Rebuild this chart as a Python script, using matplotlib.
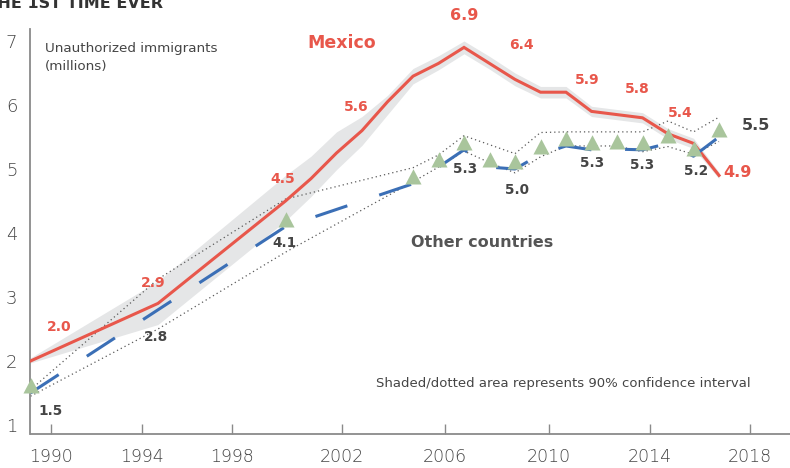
import numpy as np
import matplotlib.pyplot as plt
from matplotlib.path import Path

# Unauthorized immigrants in the U.S., millions
mexico_years = [1990, 1995, 2000, 2001, 2002, 2003, 2004, 2005, 2006, 2007,
                2008, 2009, 2010, 2011, 2012, 2013, 2014, 2015, 2016, 2017]
mexico = [2.0, 2.9, 4.5, 4.85, 5.25, 5.6, 6.05, 6.45, 6.65, 6.9,
          6.65, 6.4, 6.2, 6.2, 5.9, 5.85, 5.8, 5.55, 5.4, 4.9]
mexico_low = [1.97, 2.57, 4.19, 4.57, 4.99, 5.37, 5.85, 6.33, 6.55, 6.8,
              6.56, 6.3, 6.11, 6.11, 5.82, 5.77, 5.72, 5.47, 5.32, 4.85]
mexico_high = [2.05, 3.25, 4.9, 5.2, 5.58, 5.82, 6.15, 6.57, 6.77, 7.0,
               6.76, 6.5, 6.29, 6.29, 5.98, 5.93, 5.88, 5.63, 5.48, 4.95]

other_years = [1990, 1995, 2000, 2005, 2006, 2007, 2008, 2009,
               2010, 2011, 2012, 2013, 2014, 2015, 2016, 2017]
other = [1.5, 2.8, 4.1, 4.77, 5.03, 5.3, 5.03, 5.0,
         5.23, 5.36, 5.3, 5.31, 5.3, 5.4, 5.2, 5.5]
other_low = [1.45, 2.5, 3.7, 4.8, 5.03, 5.28, 5.1, 4.94,
             5.19, 5.36, 5.36, 5.36, 5.27, 5.35, 5.23, 5.43]
other_high = [1.55, 3.28, 4.53, 5.02, 5.22, 5.52, 5.38, 5.24,
              5.57, 5.58, 5.58, 5.58, 5.58, 5.75, 5.58, 5.81]

# years that get a printed value
mexico_labeled = [1990, 1995, 2000, 2003, 2007, 2009, 2012, 2014, 2016, 2017]
other_labeled = [1990, 1995, 2000, 2007, 2009, 2012, 2014, 2016, 2017]

x_tick_pos = [1990.8, 1994.36, 1997.9, 2002.2, 2006.24, 2010.33, 2014.29, 2018.2]
x_tick_labels = ['1990', '1994', '1998', '2002', '2006', '2010', '2014', '2018']
y_ticks = [1, 2, 3, 4, 5, 6, 7]

RED = '#E8574B'
BLUE = '#3B6FB6'
GREEN = '#A9C59C'
BAND = '#E5E6E7'
TEXT = '#454545'
AXIS = '#8A8A8A'

W, H = 790, 468
fig = plt.figure(figsize=(W / 100, H / 100), dpi=100)
ax = fig.add_axes([30.5 / W, (H - 434) / H, 759.5 / W, 405 / H])


def px(x, y):
    return x / W, 1 - y / H


# triangle sitting on its data point
tri = Path([(-1, 0), (1, 0), (0, 1.9), (-1, 0)],
           [Path.MOVETO, Path.LINETO, Path.LINETO, Path.CLOSEPOLY])

ax.fill_between(mexico_years, mexico_low, mexico_high, color=BAND, lw=0, zorder=1)
ax.plot(other_years, other_low, color='#5a5a5a', lw=0.9, ls=(0, (1, 2.4)), zorder=2)
ax.plot(other_years, other_high, color='#5a5a5a', lw=0.9, ls=(0, (1, 2.4)), zorder=2)
ax.plot(mexico_years, mexico, color=RED, lw=2.2, zorder=3, solid_joinstyle='miter')
ax.plot(other_years, other, color=BLUE, lw=2.2, dashes=(11, 11), zorder=4,
        dash_capstyle='butt')
mk = [i for i, y in enumerate(other_years) if y != 1995]
ax.plot([other_years[i] for i in mk], [other[i] for i in mk], ls='none',
        marker=tri, ms=22, color=GREEN, mec='none', zorder=5, clip_on=False)

# value labels: offsets in pixels (dx right, dy up)
mexico_off = [(29, 34), (-5, 20), (-3, 22), (-6, 24), (0, 32),
              (6, 34), (-4, 31), (-5, 29), (-13, 30), (18, 3)]
other_off = [(20, -18), (-2, -27), (-1, -16), (1, -19), (2, -21),
             (1, -13), (0, -15), (3, -15), (37, 12)]

for yr, (dx, dy) in zip(mexico_labeled, mexico_off):
    v = mexico[mexico_years.index(yr)]
    big = yr in (2007, 2017)
    ax.annotate(f'{v:.1f}', (yr, v), xytext=(dx * 0.72, dy * 0.72),
                textcoords='offset points', ha='center', va='center',
                color=RED, fontsize=11.5 if big else 10, fontweight='bold',
                annotation_clip=False, zorder=6)

for yr, (dx, dy) in zip(other_labeled, other_off):
    v = other[other_years.index(yr)]
    big = yr == 2017
    ax.annotate(f'{v:.1f}', (yr, v), xytext=(dx * 0.72, dy * 0.72),
                textcoords='offset points', ha='center', va='center',
                color=TEXT, fontsize=11.5 if big else 9.8, fontweight='bold',
                annotation_clip=False, zorder=6)

ax.set_xlim(1990, 1990 + 759.5 / 25.5)
ax.set_ylim(1 - 9 / 64, 1 + 396 / 64)

for s in ['top', 'right']:
    ax.spines[s].set_visible(False)
for s in ['left', 'bottom']:
    ax.spines[s].set_color(AXIS)
    ax.spines[s].set_linewidth(1.3)

ax.set_xticks(x_tick_pos)
ax.set_xticklabels(x_tick_labels)
ax.set_yticks(y_ticks)
ax.tick_params(axis='x', direction='in', length=7.2, width=1, color=AXIS,
               pad=10, labelsize=12.5, labelcolor=TEXT)
ax.tick_params(axis='y', length=0, pad=9.5, labelsize=13, labelcolor=TEXT)
for lab in ax.get_xticklabels() + ax.get_yticklabels():
    lab.set_fontweight('light')

fig.text(*px(163, 7.5), 'FOR THE 1ST TIME EVER', ha='right', va='baseline',
         fontsize=11.5, fontweight='bold', color='#333333')
fig.text(*px(45, 57.5), 'Unauthorized immigrants\n(millions)', ha='left',
         va='center', fontsize=9.7, color=TEXT, linespacing=1.45)
fig.text(*px(342, 43), 'Mexico', ha='center', va='center', fontsize=12.5,
         fontweight='bold', color=RED)
fig.text(*px(482, 242), 'Other countries', ha='center', va='center',
         fontsize=11.5, fontweight='bold', color='#555555')
fig.text(*px(376, 384), 'Shaded/dotted area represents 90% confidence interval',
         ha='left', va='center', fontsize=9.5, color=TEXT)

fig.savefig('out.png', dpi=100)
